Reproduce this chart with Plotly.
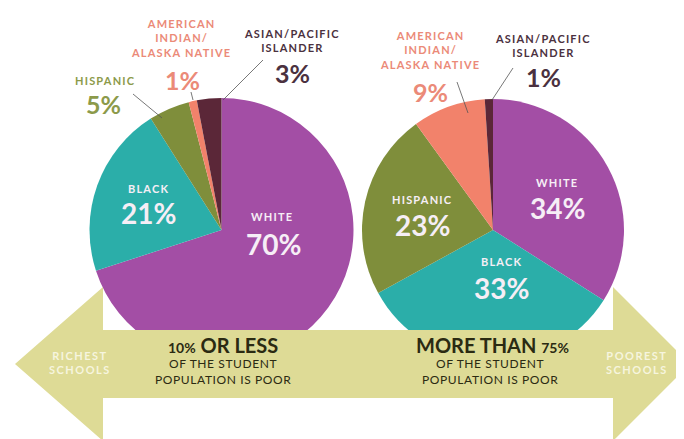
import plotly.graph_objects as go

# ---- data ----
groups = ["White", "Black", "Hispanic", "American Indian/Alaska Native", "Asian/Pacific Islander"]
richest_pct = [70, 21, 5, 1, 3]
poorest_pct = [34, 33, 23, 9, 1]
slice_colors = ["#A34EA5", "#2BAEA9", "#7F8E3B", "#F2826B", "#5B2738"]

# page body has an 8px default margin; the figure fills the rest of the window
OFF = 8
W, H = 684 - OFF, 439 - OFF
def px(x):
    return (x - OFF) / W
def py(y):
    return 1 - (y - OFF) / H

fig = go.Figure()

def add_pie(vals, cx, cy, r, name):
    fig.add_trace(go.Pie(
        labels=groups, values=vals, sort=False, direction="clockwise", rotation=0,
        marker=dict(colors=slice_colors, line=dict(width=0)),
        textinfo="none", hoverinfo="label+percent", showlegend=False, name=name,
        domain=dict(x=[px(cx - r), px(cx + r)], y=[py(cy + r), py(cy - r)]),
    ))

add_pie(richest_pct, 221.5, 230, 132, "Richest schools")
add_pie(poorest_pct, 493, 230, 131, "Poorest schools")

# ---- arrow band ----
ARROW = "#DEDB96"
pts = [(15, 364), (103, 287), (103, 330), (613, 330), (613, 287), (690, 364),
       (613, 441), (613, 398), (103, 398), (103, 441)]
path = "M " + " L ".join(f"{px(x):.5f},{py(y):.5f}" for x, y in pts) + " Z"
shapes = [dict(type="path", path=path, xref="paper", yref="paper",
               fillcolor=ARROW, line=dict(width=0), layer="above")]

# leader lines
LEAD = "#555555"
for (x0, y0, x1, y1) in [(133, 94, 162, 118), (191, 92, 193, 100), (263, 60, 223, 100),
                         (457, 82, 468, 113), (513, 68, 492, 100)]:
    shapes.append(dict(type="line", xref="paper", yref="paper",
                       x0=px(x0), y0=py(y0), x1=px(x1), y1=py(y1),
                       line=dict(color=LEAD, width=0.8)))

FONT = "Lato"
anns = []
def txt(x, y, s, size, color, bold=True, ls=0):
    if ls:
        s = "<br>".join(f"<span style='letter-spacing:{ls}px'>{p}</span>" for p in s.split("<br>"))
    anns.append(dict(x=px(x), y=py(y), xref="paper", yref="paper", text=(f"<b>{s}</b>" if bold else s),
                     showarrow=False, xanchor="center", yanchor="middle",
                     font=dict(family=FONT, size=size, color=color), align="center"))

WHITE_T = "#F6EEF6"
SALMON = "#EB8A78"
DARK = "#4B3140"
OLIVE = "#8C9A4A"
SMALL = 11
LS = 1.2

# left pie labels (richest)
txt(272, 217, "WHITE", SMALL, WHITE_T, ls=LS)
txt(273, 244, f"{richest_pct[0]}%", 28, WHITE_T)
txt(148, 188, "BLACK", SMALL, WHITE_T, ls=LS)
txt(148, 213, f"{richest_pct[1]}%", 28, WHITE_T)
txt(105, 80, "HISPANIC", SMALL, OLIVE, ls=LS)
txt(103, 104, f"{richest_pct[2]}%", 25, OLIVE)
txt(181, 38, "AMERICAN<br>INDIAN/<br>ALASKA NATIVE", SMALL, SALMON, ls=LS)
txt(182, 80, f"{richest_pct[3]}%", 25, SALMON)
txt(292, 40, "ASIAN/PACIFIC<br>ISLANDER", SMALL, DARK, ls=LS)
txt(292, 73, f"{richest_pct[4]}%", 25, DARK)

# right pie labels (poorest)
txt(557, 182, "WHITE", SMALL, WHITE_T, ls=LS)
txt(557, 208, f"{poorest_pct[0]}%", 28, WHITE_T)
txt(502, 262, "BLACK", SMALL, WHITE_T, ls=LS)
txt(502, 288, f"{poorest_pct[1]}%", 28, WHITE_T)
txt(422, 199, "HISPANIC", SMALL, WHITE_T, ls=LS)
txt(422, 225, f"{poorest_pct[2]}%", 28, WHITE_T)
txt(430, 50, "AMERICAN<br>INDIAN/<br>ALASKA NATIVE", SMALL, SALMON, ls=LS)
txt(430, 92, f"{poorest_pct[3]}%", 25, SALMON)
txt(543, 45, "ASIAN/PACIFIC<br>ISLANDER", SMALL, DARK, ls=LS)
txt(543, 77, f"{poorest_pct[4]}%", 25, DARK)

# arrow texts
BAR_T = "#2B2A12"
txt(223, 345, "<span style='font-size:14px'>10%</span> OR LESS", 20, BAR_T)
txt(223, 371, "OF THE STUDENT<br>POPULATION IS POOR", 12, BAR_T, bold=False, ls=0.6)
txt(492, 345, "MORE THAN <span style='font-size:14px'>75%</span>", 20, BAR_T)
txt(490, 371, "OF THE STUDENT<br>POPULATION IS POOR", 12, BAR_T, bold=False, ls=0.6)
txt(80, 362, "RICHEST<br>SCHOOLS", 11, "#F6F5DE", bold=True, ls=1.5)
txt(637, 362, "POOREST<br>SCHOOLS", 11, "#F6F5DE", bold=True, ls=1.5)

fig.update_layout(width=W, height=H, margin=dict(l=0, r=0, t=0, b=0),
                  paper_bgcolor="white", plot_bgcolor="white",
                  shapes=shapes, annotations=anns)
fig.write_html("out.html")
